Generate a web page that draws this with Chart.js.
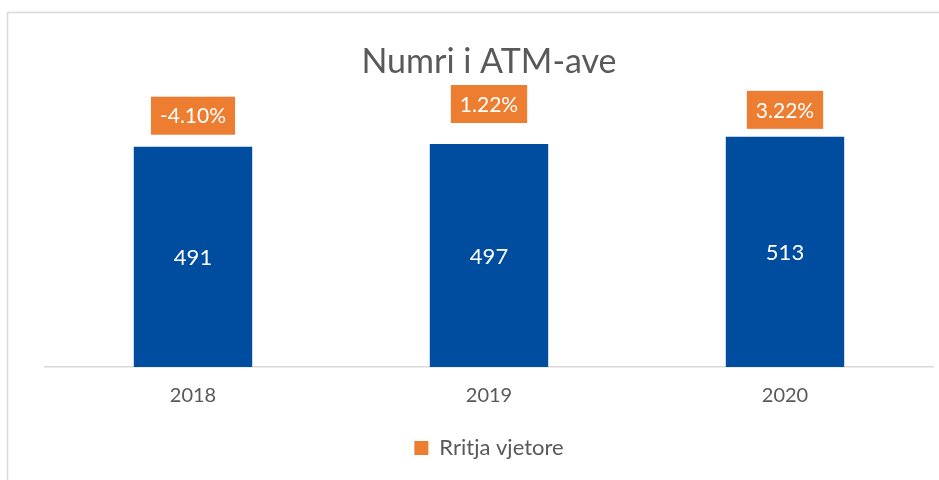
<!DOCTYPE html>
<html>
<head>
<meta charset="utf-8">
<title>Numri i ATM-ave</title>
<script src="https://cdn.jsdelivr.net/npm/chart.js@4/dist/chart.umd.min.js"></script>
<style>
  html, body { margin: 0; padding: 0; background: #fff; }
  #wrap { width: 939px; height: 480px; }
</style>
</head>
<body>
<div id="wrap"><canvas id="myChart" width="939" height="480"></canvas></div>
<script>
// Data
const years = ['2018', '2019', '2020'];
const atmCount = [491, 497, 513];
const growthPct = [-4.10, 1.22, 3.22];

const FONT = 'Lato, "Open Sans", sans-serif';
const GREY = '#595959';
const BLUE = '#004C9F';
const ORANGE = '#ED7D31';

// Frame around the chart, like the exported picture
const framePlugin = {
    id: 'frame',
    beforeDraw(chart) {
        const ctx = chart.ctx;
        ctx.save();
        ctx.fillStyle = '#fff';
        ctx.fillRect(0, 0, chart.width, chart.height);
        ctx.strokeStyle = '#d9d9d9';
        ctx.lineWidth = 1.5;
        ctx.strokeRect(7.5, 12.5, chart.width, chart.height);
        ctx.restore();
    }
};

// Value labels inside the bars and growth boxes above them
const labelPlugin = {
    id: 'labels',
    afterDatasetsDraw(chart, args, opts) {
        const ctx = chart.ctx;
        const bars = chart.getDatasetMeta(0).data;
        ctx.save();
        ctx.textAlign = 'center';
        ctx.textBaseline = 'middle';
        bars.forEach((bar, i) => {
            // count inside bar
            const mid = (bar.y + bar.base) / 2;
            ctx.font = '22px ' + FONT;
            ctx.fillStyle = '#fff';
            ctx.fillText(String(atmCount[i]), bar.x, mid + 1);

            // growth box
            ctx.font = '21px ' + FONT;
            const txt = growthPct[i].toFixed(2) + '%';
            const w = ctx.measureText(txt).width + 18;
            const h = 38;
            const bottom = bar.y - opts.gaps[i];
            ctx.fillStyle = ORANGE;
            ctx.fillRect(bar.x - w / 2, bottom - h, w, h);
            ctx.fillStyle = '#fff';
            ctx.fillText(txt, bar.x, bottom - h / 2 + 1);
        });
        ctx.restore();
    }
};

function renderChart() {
    const ctx = document.getElementById('myChart').getContext('2d');
    new Chart(ctx, {
        data: {
            labels: years,
            datasets: [
                {
                    type: 'bar',
                    label: 'Numri i ATM-ave',
                    data: atmCount,
                    backgroundColor: BLUE,
                    borderWidth: 0,
                    categoryPercentage: 1,
                    barPercentage: 0.4,
                    yAxisID: 'y'
                },
                {
                    type: 'line',
                    label: 'Rritja vjetore',
                    data: growthPct,
                    backgroundColor: ORANGE,
                    borderColor: ORANGE,
                    borderWidth: 0,
                    showLine: false,
                    pointRadius: 0,
                    pointHoverRadius: 0,
                    yAxisID: 'y2'
                }
            ]
        },
        options: {
            responsive: false,
            animation: false,
            events: [],
            layout: { padding: { top: 42, left: 45, right: 6, bottom: 11 } },
            scales: {
                x: {
                    grid: { display: false, drawTicks: false },
                    border: { display: true, color: '#d9d9d9', width: 1.5 },
                    ticks: { color: GREY, font: { family: FONT, size: 20 }, padding: 17 },
                    afterFit(scale) { scale.height = 60; }
                },
                y: { display: false, min: 0, max: 600 },
                y2: { display: false, min: -10, max: 10 }
            },
            plugins: {
                title: {
                    display: true,
                    text: 'Numri i ATM-ave',
                    color: GREY,
                    font: { family: FONT, size: 34, weight: 'normal' },
                    padding: { top: 0, bottom: 15 }
                },
                legend: {
                    position: 'bottom',
                    labels: {
                        color: GREY,
                        font: { family: FONT, size: 22 },
                        boxWidth: 14,
                        boxHeight: 14,
                        filter: item => item.datasetIndex === 1
                    }
                },
                tooltip: { enabled: false },
                labels: { gaps: [12, 21, 8] }
            }
        },
        plugins: [framePlugin, labelPlugin]
    });
}

renderChart();
</script>
</body>
</html>
